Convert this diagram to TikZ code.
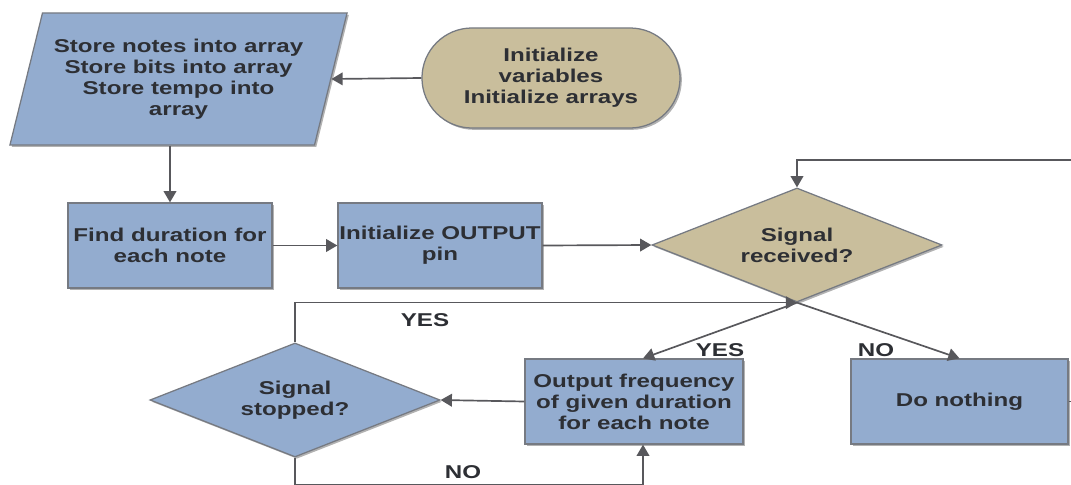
\documentclass[tikz,border=0pt]{standalone}
\usepackage{fontspec}
\setmainfont{Liberation Sans}[FakeStretch=1.3]
\usetikzlibrary{shapes.geometric,shapes.misc,arrows.meta,shadows}
\definecolor{boxblue}{RGB}{147,172,207}
\definecolor{boxtan}{RGB}{201,190,156}
\definecolor{edgegray}{RGB}{118,122,130}
\definecolor{linegray}{RGB}{88,88,92}
\definecolor{txtgray}{RGB}{45,47,52}
\tikzset{
  lbl/.style={font=\bfseries\fontsize{13.2}{15}\selectfont, text=txtgray, align=center},
  dropsh/.style={drop shadow={shadow xshift=1.3pt, shadow yshift=-1.3pt, opacity=0.3, fill=black}},
  procbox/.style={lbl, rectangle, draw=edgegray, fill=boxblue, line width=0.9pt,
    minimum width=5.1cm, minimum height=2.125cm, inner sep=0pt, dropsh},
  decbox/.style={lbl, diamond, aspect=2.5, draw=edgegray, fill=boxblue, line width=0.9pt,
    minimum width=7.25cm, minimum height=2.85cm, inner sep=0pt, dropsh},
  iobox/.style={lbl, trapezium, trapezium left angle=68, trapezium right angle=112,
    trapezium stretches body, draw=edgegray, fill=boxblue, line width=0.9pt,
    minimum width=8.425cm, minimum height=3.3cm, inner sep=0pt, dropsh},
  startbox/.style={lbl, rounded rectangle, draw=edgegray, fill=boxtan, line width=0.9pt,
    minimum width=6.45cm, minimum height=2.5cm, inner sep=0pt, dropsh},
  arr/.style={draw=linegray, line width=1.2pt, -{Triangle[length=8pt,width=9pt]}},
  wire/.style={draw=linegray, line width=1.2pt}
}
\begin{document}
\begin{tikzpicture}[x=0.025cm, y=-0.025cm]
\useasboundingbox (0,0) rectangle (1071,485);
\clip (0,0) rectangle (1071,485);
% blocks
\node[iobox] (store) at (178.5,79) {Store notes into array\\Store bits into array\\Store tempo into\\array};
\node[startbox] (init) at (551,78) {Initialize\\variables\\Initialize arrays};
\node[procbox] (find) at (170,245.5) {Find duration for\\each note};
\node[procbox] (pin) at (440,245.5) {Initialize OUTPUT\\pin};
\node[decbox, fill=boxtan] (recv) at (797,245) {Signal\\received?};
\node[procbox, minimum width=5.45cm] (out) at (634,401.5) {Output frequency\\of given duration\\for each note};
\node[decbox] (stop) at (295,400) {Signal\\stopped?};
\node[procbox, minimum width=5.425cm] (none) at (959.5,401.5) {Do nothing};
% loop back from the right
\coordinate (back) at (1110,160);
% labels
\node[lbl] (yestop) at (425,320) {YES};
\node[lbl] (yesmid) at (720,350) {YES};
\node[lbl] (nomid) at (876,350) {NO};
\node[lbl] (nolow) at (463,472) {NO};
% connectors
\draw[arr] (init.west) -- (store.east);
\draw[arr] (find.north |- store.south) -- (find.north);
\draw[arr] (find.east) -- (pin.west);
\draw[arr] (pin.east) -- (recv.west);
\draw[arr] (none.east) -| (back) -| (recv.north);
\draw[arr] (recv.south) -- ([xshift=6.4pt]out.north);
\draw[arr] (recv.south) -- (none.north);
\draw[arr] (out.west) -- (stop.east);
\draw[arr] (stop.north) |- (recv.south);
\draw[arr] (stop.south) -- ++(0,27) -| ([xshift=6.4pt]out.south);
\end{tikzpicture}
\end{document}
